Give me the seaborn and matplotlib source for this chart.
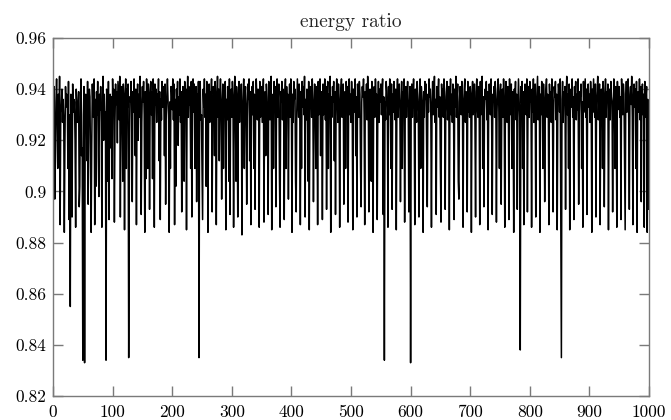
import numpy as np
import pandas as pd
import matplotlib
matplotlib.use("Agg")
import matplotlib.pyplot as plt
import seaborn as sns

# energy ratio values in thousandths (e.g. 928 -> 0.928), samples 0..999
ratio_milli = [
    928,936,941,897,912,935,944,930,909,938,912,945,887,931,934,940,927,936,929,884,919,941,933,938,937,909,943,889,930,855,938,904,890,942,931,936,935,920,886,940,932,927,934,939,894,902,936,944,914,917,
    834,930,941,833,927,938,935,912,943,895,931,940,937,909,884,918,942,933,929,944,887,936,902,939,930,943,914,898,938,932,941,927,886,934,945,920,938,929,931,834,940,936,904,943,889,931,938,917,937,905,
    944,932,940,888,927,942,934,939,919,943,936,928,945,890,930,941,935,904,942,938,885,931,944,909,940,933,942,835,902,937,935,943,928,896,939,931,944,934,914,940,887,933,942,920,938,929,945,936,891,927,
    941,935,943,930,884,939,905,944,937,909,942,938,893,935,943,930,939,905,944,937,886,942,934,940,927,938,931,944,912,939,889,936,928,943,933,941,937,914,942,895,930,938,944,936,928,884,935,909,941,939,
    932,944,928,942,887,936,902,940,933,943,918,937,930,944,927,939,892,934,941,938,904,943,932,940,885,936,945,929,941,934,938,909,943,890,937,944,931,942,909,935,941,896,938,930,943,835,937,943,928,930,
    909,889,940,933,944,929,938,902,943,936,884,931,942,927,939,935,944,892,930,941,937,914,943,938,887,934,945,929,940,912,938,944,935,897,931,942,909,939,933,943,885,936,928,941,938,904,944,891,933,940,
    929,943,937,886,932,945,938,904,941,930,890,936,943,927,939,934,942,883,931,938,944,909,937,941,933,895,929,942,936,944,912,939,887,935,941,930,943,909,938,893,932,944,937,928,940,935,886,943,929,938,
    941,927,936,944,888,933,939,914,942,937,930,891,943,934,928,940,945,885,932,938,909,943,936,941,894,931,944,929,937,942,905,886,939,935,943,928,940,933,889,937,944,909,941,931,938,897,935,942,929,944,
    933,884,938,927,943,936,940,904,892,931,944,937,929,942,935,887,939,909,943,933,941,930,945,890,936,928,940,938,904,943,885,932,941,937,929,944,935,896,930,942,938,909,941,934,887,943,930,937,944,914,
    939,934,889,942,930,936,944,928,941,893,935,943,909,938,932,945,884,937,929,941,935,943,912,939,891,933,944,938,927,942,936,886,931,940,944,929,937,942,895,934,939,909,943,935,941,888,932,944,930,938,
    927,943,936,885,940,931,938,944,914,937,890,942,934,929,943,938,909,894,935,941,937,944,930,887,939,933,942,928,945,936,892,931,940,937,904,943,939,884,934,941,929,944,936,938,889,932,943,927,940,935,
    942,930,938,944,891,937,834,935,928,943,939,933,886,941,930,944,936,909,942,893,938,931,943,937,928,940,885,935,944,929,938,942,934,896,931,943,909,939,937,944,888,933,941,929,938,943,935,892,930,941,
    833,937,942,929,938,944,932,887,940,935,927,943,938,931,890,936,944,909,941,937,933,884,939,929,943,936,942,914,894,938,931,944,937,940,928,886,935,943,930,939,945,927,936,891,941,933,938,944,929,937,
    909,888,942,935,940,929,944,937,893,931,939,943,928,936,941,885,934,944,930,938,927,942,936,889,940,933,945,929,937,942,904,897,935,941,938,930,943,936,886,932,940,944,927,939,935,892,943,931,938,929,
    941,936,884,938,943,930,935,942,927,890,939,944,933,929,941,936,887,943,930,938,945,909,937,894,932,940,936,943,928,939,885,934,942,937,930,944,927,891,938,935,941,929,943,936,888,931,940,944,933,909,
    938,942,895,934,940,929,944,936,886,931,943,938,927,941,935,889,944,930,937,942,909,939,933,884,940,936,943,928,938,893,931,944,937,929,838,941,935,943,909,939,887,933,942,938,930,944,892,936,941,929,
    943,935,938,886,940,931,944,927,937,942,890,933,939,945,928,936,941,884,938,930,943,937,909,942,935,896,931,940,944,929,938,936,887,942,933,939,927,944,935,892,930,941,937,943,928,938,885,934,942,939,
    931,944,888,835,936,943,927,939,934,941,893,937,945,930,938,909,942,885,935,940,933,944,929,937,889,941,936,943,928,938,932,944,895,930,939,937,942,909,935,886,943,931,938,944,929,940,891,936,942,933,
    938,927,943,936,884,940,931,944,937,929,942,890,935,939,945,928,936,942,887,933,940,937,909,943,938,894,931,944,929,939,936,942,885,934,940,928,943,937,935,892,930,944,939,909,941,936,886,943,932,938,
    941,929,937,889,944,935,930,942,938,909,885,936,943,931,939,944,927,893,938,941,934,945,929,887,937,942,933,940,909,943,884,936,939,931,944,928,941,896,935,942,930,938,886,943,929,937,941,884,936,893,
]
title_text = "energy ratio"
x_ticks = [0, 100, 200, 300, 400, 500, 600, 700, 800, 900, 1000]
y_ticks = [0.82, 0.84, 0.86, 0.88, 0.90, 0.92, 0.94, 0.96]
y_tick_labels = ["0.82", "0.84", "0.86", "0.88", "0.9", "0.92", "0.94", "0.96"]

df = pd.DataFrame({"step": np.arange(len(ratio_milli)),
                   "ratio": np.array(ratio_milli) / 1000.0})

sns.set_style("white")
plt.rcParams["font.family"] = ["cmr10", "DejaVu Serif"]
plt.rcParams["axes.formatter.use_mathtext"] = True
plt.rcParams["mathtext.fontset"] = "cm"

fig = plt.figure(figsize=(6.71, 4.20), dpi=100)
ax = fig.add_axes([53 / 671, 24 / 420, (649 - 53) / 671, (396 - 38) / 420])
sns.lineplot(data=df, x="step", y="ratio", ax=ax, color="black",
             linewidth=1.1, estimator=None)

ax.set_xlim(0, 1000)
ax.set_ylim(0.82, 0.96)
ax.set_xticks(x_ticks)
ax.set_xticklabels([str(t) for t in x_ticks])
ax.set_yticks(y_ticks)
ax.set_yticklabels(y_tick_labels)
ax.set_xlabel("")
ax.set_ylabel("")
ax.set_title(title_text, fontsize=14, pad=8)

spine_col = "#7a7a7a"
for s in ax.spines.values():
    s.set_visible(True)
    s.set_color(spine_col)
    s.set_linewidth(1.0)
ax.tick_params(axis="both", which="both", direction="in", length=7.2,
               width=1.0, color=spine_col, labelsize=12.5,
               top=True, right=True, bottom=True, left=True,
               labelcolor="black")
ax.tick_params(axis="x", pad=6)
ax.tick_params(axis="y", pad=4.5)

fig.savefig("out.png", dpi=100)
